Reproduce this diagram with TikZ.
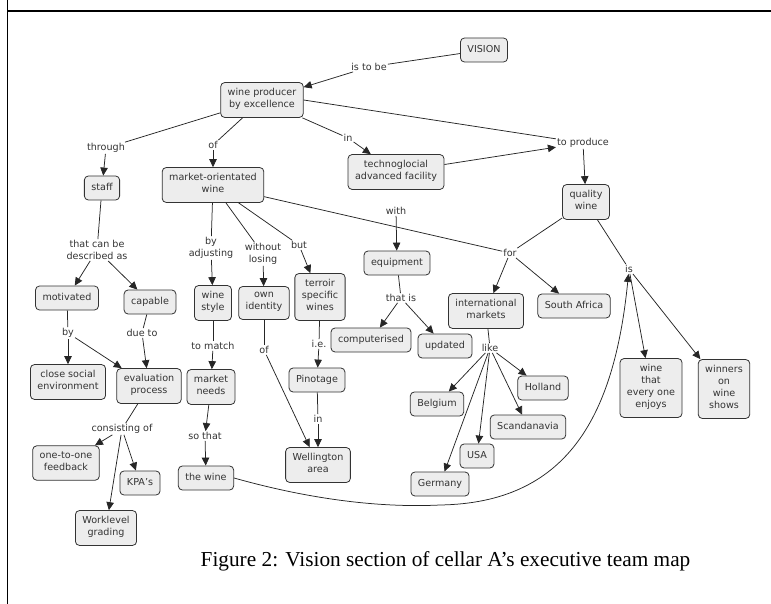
\documentclass[tikz,border=0pt]{standalone}
\usepackage{fontspec}
\setmainfont{DejaVu Sans}
\newfontfamily\captionfont{Liberation Serif}
\usetikzlibrary{arrows.meta}
\newcommand{\cmapfont}{\fontsize{9.6}{12}\selectfont}

\begin{document}
\begin{tikzpicture}[x=1pt, y=-1pt,
	concept/.style={draw=black!80, line width=0.8pt, fill=black!7, rounded corners=4pt, align=center, inner xsep=7pt, inner ysep=6pt, text=black!80, font=\cmapfont, execute at begin node=\strut, execute at end node=\strut},
	linkword/.style={fill=white, inner sep=1pt, align=center, text=black!80, font=\cmapfont},
	link/.style={draw=black!85, line width=0.75pt},
	linkarrow/.style={link, -{Triangle[length=8pt,width=7.5pt]}}]
	\useasboundingbox (0,0) rectangle (771,604);
	\draw[line width=1.6pt] (7.5,0) -- (7.5,604);
	\draw[line width=1.6pt] (7.5,11) -- (771,11);
	% concepts
	\node[concept] (vision) at (484,50) {VISION};
	\node[concept] (producer) at (262,100) {wine producer\\by excellence};
	\node[concept] (staff) at (102,188) {staff};
	\node[concept] (market) at (213,185) {market-orientated\\wine};
	\node[concept] (techno) at (396,172) {technoglocial\\advanced facility};
	\node[concept] (quality) at (586,202) {quality\\wine};
	\node[concept] (motivated) at (67,298) {motivated};
	\node[concept] (capable) at (150,302) {capable};
	\node[concept] (style) at (213,303) {wine\\style};
	\node[concept] (identity) at (264,303) {own\\identity};
	\node[concept] (terroir) at (320,297) {terroir\\specific\\wines};
	\node[concept] (equip) at (397,263) {equipment};
	\node[concept] (computer) at (371,340) {computerised};
	\node[concept] (updated) at (445,346) {updated};
	\node[concept] (intl) at (486,311) {international\\markets};
	\node[concept] (safrica) at (574,306) {South Africa};
	\node[concept] (close) at (68,382) {close social\\environment};
	\node[concept] (evaluation) at (149,386) {evaluation\\process};
	\node[concept] (needs) at (211,387) {market\\needs};
	\node[concept] (pinotage) at (317,380) {Pinotage};
	\node[concept] (holland) at (543,388) {Holland};
	\node[concept] (belgium) at (437,404) {Belgium};
	\node[concept] (scand) at (528,427) {Scandanavia};
	\node[concept] (usa) at (477,456) {USA};
	\node[concept] (germany) at (440,484) {Germany};
	\node[concept] (enjoys) at (651,388) {wine\\that\\every one\\enjoys};
	\node[concept] (winners) at (724,389) {winners\\on\\wine\\shows};
	\node[concept] (feedback) at (66,463) {one-to-one\\feedback};
	\node[concept] (kpa) at (140,483) {KPA's};
	\node[concept] (thewine) at (206,478) {the wine};
	\node[concept] (wellington) at (318,465) {Wellington\\area};
	\node[concept] (worklevel) at (106,528) {Worklevel\\grading};
	% linking words
	\node[linkword] (istobe) at (369,67) {is to be};
	\node[linkword] (through) at (106,148) {through};
	\node[linkword] (ofa) at (213,145) {of};
	\node[linkword] (ina) at (348,138) {in};
	\node[linkword] (toproduce) at (583,143) {to produce};
	\node[linkword] (descr) at (97,250) {that can be\\described as};
	\node[linkword] (byadj) at (211,248) {by\\adjusting};
	\node[linkword] (without) at (263,254) {without\\losing};
	\node[linkword] (but) at (299,245) {but};
	\node[linkword] (with) at (396,211) {with};
	\node[linkword] (for) at (510,253) {for};
	\node[linkword] (is) at (629,269) {is};
	\node[linkword] (thatis) at (401,298) {that is};
	\node[linkword] (byb) at (68,333) {by};
	\node[linkword] (dueto) at (142,333) {due to};
	\node[linkword] (tomatch) at (213,346) {to match};
	\node[linkword] (ofb) at (264,350) {of};
	\node[linkword] (ie) at (319,344) {i.e.};
	\node[linkword] (like) at (490,348) {like};
	\node[linkword] (consist) at (122,429) {consisting of};
	\node[linkword] (sothat) at (205,436) {so that};
	\node[linkword] (inb) at (318,419) {in};
	% connectors
	\draw[link] (vision) -- (istobe);
	\draw[linkarrow] (istobe) -- (producer);
	\draw[link] (producer) -- (through);
	\draw[linkarrow] (through) -- (staff);
	\draw[link] (producer) -- (ofa);
	\draw[linkarrow] (ofa) -- (market);
	\draw[link] (producer) -- (ina);
	\draw[linkarrow] (ina) -- (techno);
	\draw[link] (producer.east) -- (toproduce);
	\draw[linkarrow] (techno) -- (toproduce);
	\draw[linkarrow] (toproduce) -- (quality);
	\draw[link] (staff) -- (descr);
	\draw[linkarrow] (descr) -- (motivated);
	\draw[linkarrow] (descr) -- (capable);
	\draw[link] (motivated) -- (byb);
	\draw[linkarrow] (byb) -- (close);
	\draw[linkarrow] (byb) -- (evaluation);
	\draw[link] (capable) -- (dueto);
	\draw[linkarrow] (dueto) -- (evaluation);
	\draw[link] (evaluation) -- (consist);
	\draw[linkarrow] (consist) -- (feedback);
	\draw[linkarrow] (consist) -- (kpa);
	\draw[linkarrow] (consist) -- (worklevel);
	\draw[link] (market) -- (byadj);
	\draw[linkarrow] (byadj) -- (style);
	\draw[link] (market) -- (without);
	\draw[linkarrow] (without) -- (identity);
	\draw[link] (market) -- (but);
	\draw[linkarrow] (but) -- (terroir);
	\draw[link] (style) -- (tomatch);
	\draw[linkarrow] (tomatch) -- (needs);
	\draw[linkarrow] (needs) -- (sothat);
	\draw[linkarrow] (sothat) -- (thewine);
	\draw[link] (identity) -- (ofb);
	\draw[linkarrow] (ofb) -- (wellington);
	\draw[link] (terroir) -- (ie);
	\draw[linkarrow] (ie) -- (pinotage);
	\draw[link] (pinotage) -- (inb);
	\draw[linkarrow] (inb) -- (wellington);
	\draw[link] (market) -- (for);
	\draw[linkarrow] (with) -- (equip);
	\draw[link] (equip) -- (thatis);
	\draw[linkarrow] (thatis) -- (computer);
	\draw[linkarrow] (thatis) -- (updated);
	\draw[link] (quality) -- (for);
	\draw[linkarrow] (for) -- (intl);
	\draw[linkarrow] (for) -- (safrica);
	\draw[link] (intl) -- (like);
	\draw[linkarrow] (like) -- (holland);
	\draw[linkarrow] (like) -- (belgium);
	\draw[linkarrow] (like) -- (scand);
	\draw[linkarrow] (like) -- (usa);
	\draw[linkarrow] (like) -- (germany);
	\draw[link] (quality) -- (is);
	\draw[linkarrow] (is) -- (enjoys);
	\draw[linkarrow] (is) -- (winners);
	\coordinate (dip) at (440,505);
	\draw[linkarrow] (thewine.east) .. controls (330,505) and (400,507) .. (dip) .. controls (565,503) and (614,420) .. (is);
	% caption
	\node[font=\captionfont\fontsize{21.3}{24}\selectfont] (caption) at (445.5,561) {Figure 2: Vision section of cellar A’s executive team map};
\end{tikzpicture}
\end{document}
